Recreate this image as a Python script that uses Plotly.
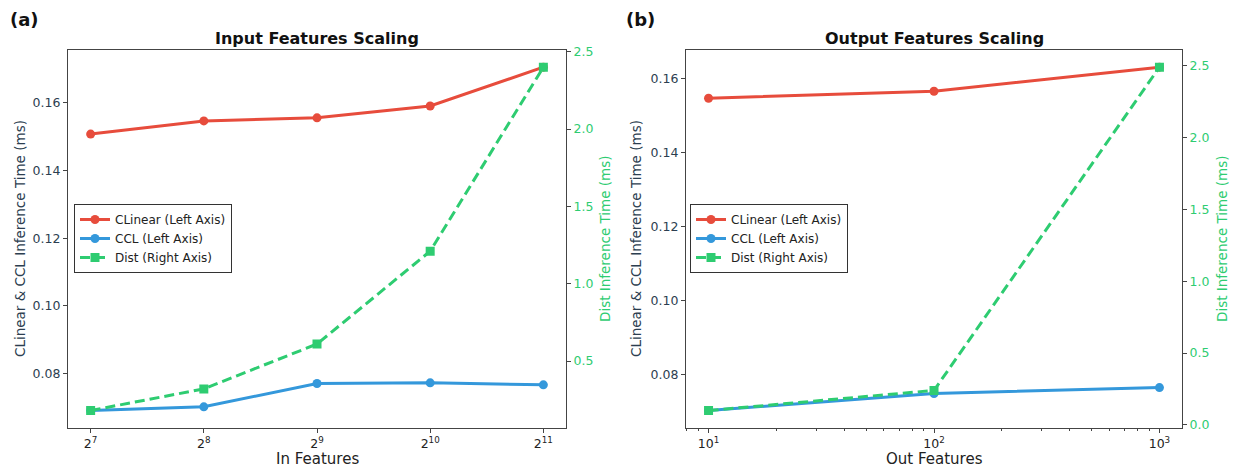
import plotly.graph_objects as go
import numpy as np

W, H = 1233, 468

# ---- data ----
in_features = [128, 256, 512, 1024, 2048]
in_tick_labels = ["2<sup>7</sup>", "2<sup>8</sup>", "2<sup>9</sup>", "2<sup>10</sup>", "2<sup>11</sup>"]
in_clinear = [0.1508, 0.1547, 0.1556, 0.1591, 0.1706]
in_ccl = [0.0690, 0.0701, 0.0770, 0.0772, 0.0766]
in_dist = [0.18, 0.32, 0.61, 1.21, 2.40]

out_features = [10, 100, 1000]
out_tick_labels = ["10<sup>1</sup>", "10<sup>2</sup>", "10<sup>3</sup>"]
out_clinear = [0.1547, 0.1566, 0.1631]
out_ccl = [0.0704, 0.0750, 0.0766]
out_dist = [0.10, 0.24, 2.49]

RED, BLUE, GREEN = "#e74c3c", "#3498db", "#2ecc71"
DARK = "#2c3e50"
SPINE = "#444444"
FONT = "DejaVu Sans"


def px_x(p):
    return p / W


def px_y(p):
    return 1 - p / H


def pad_range(vals, frac=0.05):
    lo, hi = min(vals), max(vals)
    d = (hi - lo) * frac
    return [lo - d, hi + d]


def log_range(vals, frac=0.05):
    lv = [np.log10(v) for v in vals]
    lo, hi = min(lv), max(lv)
    d = (hi - lo) * frac
    return [lo - d, hi + d]


fig = go.Figure()

line_w = 3
msize = 9

def add_panel(xs, cl, cc, di, xa, ya, ya2, leg):
    fig.add_trace(go.Scatter(x=xs, y=cl, mode="lines+markers", name="CLinear (Left Axis)",
                             line=dict(color=RED, width=line_w), marker=dict(size=msize, color=RED),
                             xaxis=xa, yaxis=ya, legend=leg))
    fig.add_trace(go.Scatter(x=xs, y=cc, mode="lines+markers", name="CCL (Left Axis)",
                             line=dict(color=BLUE, width=line_w), marker=dict(size=msize, color=BLUE),
                             xaxis=xa, yaxis=ya, legend=leg))
    fig.add_trace(go.Scatter(x=xs, y=di, mode="lines+markers", name="Dist (Right Axis)",
                             line=dict(color=GREEN, width=line_w, dash="10px,5px"),
                             marker=dict(size=msize, color=GREEN, symbol="square"),
                             xaxis=xa, yaxis=ya2, legend=leg))

add_panel(in_features, in_clinear, in_ccl, in_dist, "x", "y", "y2", "legend")
add_panel(out_features, out_clinear, out_ccl, out_dist, "x2", "y3", "y4", "legend2")

y_dom = [px_y(427.7), px_y(50)]
xL = [px_x(68), px_x(566)]
xR = [px_x(686), px_x(1182)]

tickfont = dict(family=FONT, size=12.5, color=DARK)
tickfont_g = dict(family=FONT, size=12.5, color=GREEN)
tickfont_x = dict(family=FONT, size=12.5, color="#222")

common_ax = dict(showline=True, linecolor=SPINE, linewidth=1.2, ticks="outside", ticklen=4,
                 tickwidth=1, tickcolor=SPINE, showgrid=False, zeroline=False, automargin=False)

minor_vals = [v * 10 ** e for e in [0, 1, 2, 3] for v in range(2, 10)]

legend_common = dict(xanchor="left", yanchor="middle", xref="paper", yref="paper",
                     bgcolor="white", bordercolor="#333", borderwidth=1,
                     font=dict(family=FONT, size=12, color="#222"), tracegroupgap=0)

fig.update_layout(
    template="none",
    width=W, height=H, margin=dict(l=0, r=0, t=0, b=0, pad=0, autoexpand=False),
    paper_bgcolor="white", plot_bgcolor="white",
    showlegend=True,
    xaxis=dict(domain=xL, anchor="y", type="log", range=log_range(in_features),
               tickmode="array", tickvals=in_features, ticktext=in_tick_labels,
               tickfont=tickfont_x, mirror=True, **common_ax),
    yaxis=dict(domain=y_dom, anchor="x", range=pad_range(in_clinear + in_ccl),
               dtick=0.02, tick0=0, tickformat=".2f", tickfont=tickfont, **common_ax),
    yaxis2=dict(overlaying="y", side="right", anchor="x", range=pad_range(in_dist),
                dtick=0.5, tick0=0, tickformat=".1f", tickfont=tickfont_g, **common_ax),
    xaxis2=dict(domain=xR, anchor="y3", type="log", range=log_range(out_features),
                tickmode="array", tickvals=out_features, ticktext=out_tick_labels,
                tickfont=tickfont_x, mirror=True,
                minor=dict(tickmode="array", tickvals=minor_vals, ticks="outside", ticklen=2,
                           tickcolor=SPINE, showgrid=False),
                **common_ax),
    yaxis3=dict(domain=y_dom, anchor="x2", range=pad_range(out_clinear + out_ccl),
                dtick=0.02, tick0=0, tickformat=".2f", tickfont=tickfont, **common_ax),
    yaxis4=dict(overlaying="y3", side="right", anchor="x2", range=pad_range(out_dist),
                dtick=0.5, tick0=0, tickformat=".1f", tickfont=tickfont_g, **common_ax),
    legend=dict(x=px_x(74), y=px_y(238.5), **legend_common),
    legend2=dict(x=px_x(690), y=px_y(238.5), **legend_common),
)

ann = []
def add_text(text, x, y, size, color=DARK, bold=False, angle=0):
    t = f"<b>{text}</b>" if bold else text
    ann.append(dict(text=t, x=px_x(x), y=px_y(y), xref="paper", yref="paper", showarrow=False,
                    xanchor="center", yanchor="middle", textangle=angle,
                    font=dict(family=FONT, size=size, color=color)))

add_text("(a)", 24, 20, 18, color="#111", bold=True)
add_text("(b)", 640, 20, 18, color="#111", bold=True)
add_text("Input Features Scaling", 317, 38, 16, color="#111", bold=True)
add_text("Output Features Scaling", 934, 38, 16, color="#111", bold=True)
add_text("In Features", 317, 459, 15, color="#222")
add_text("Out Features", 934, 459, 15, color="#222")
add_text("CLinear &amp; CCL Inference Time (ms)", 20, 239, 13.5, color=DARK, angle=-90)
add_text("CLinear &amp; CCL Inference Time (ms)", 636, 239, 13.5, color=DARK, angle=-90)
add_text("Dist Inference Time (ms)", 605, 239, 13.5, color=GREEN, angle=-90)
add_text("Dist Inference Time (ms)", 1222, 239, 13.5, color=GREEN, angle=-90)
fig.update_layout(annotations=ann)

fig.write_html("out.html")
